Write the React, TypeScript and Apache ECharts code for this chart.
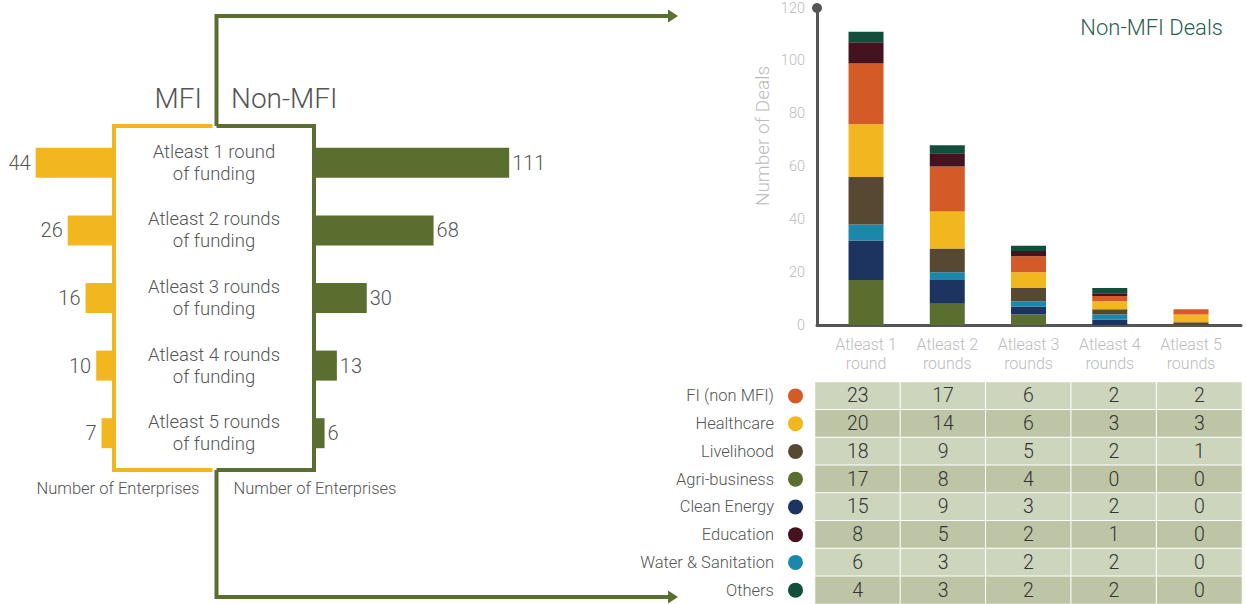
import React, { useEffect, useRef } from "react";
import * as echarts from "echarts";

const FONT = "Roboto, 'Noto Sans', sans-serif";
const FW = 300;

// Left butterfly chart
const boxLabels = [
  "Atleast 1 round\nof funding",
  "Atleast 2 rounds\nof funding",
  "Atleast 3 rounds\nof funding",
  "Atleast 4 rounds\nof funding",
  "Atleast 5 rounds\nof funding",
];
const mfiEnterprises = [44, 26, 16, 10, 7];
const nonMfiEnterprises = [111, 68, 30, 13, 6];

// Right stacked chart + table
const dealCategories = [
  "Atleast 1\nround",
  "Atleast 2\nrounds",
  "Atleast 3\nrounds",
  "Atleast 4\nrounds",
  "Atleast 5\nrounds",
];
const sectors = [
  "FI (non MFI)",
  "Healthcare",
  "Livelihood",
  "Agri-business",
  "Clean Energy",
  "Education",
  "Water & Sanitation",
  "Others",
];
const fiNonMfi = [23, 17, 6, 2, 2];
const healthcare = [20, 14, 6, 3, 3];
const livelihood = [18, 9, 5, 2, 1];
const agriBusiness = [17, 8, 4, 0, 0];
const cleanEnergy = [15, 9, 3, 2, 0];
const education = [8, 5, 2, 1, 0];
const waterSanitation = [6, 3, 2, 2, 0];
const others = [4, 3, 2, 2, 0];

const sectorValues = [fiNonMfi, healthcare, livelihood, agriBusiness, cleanEnergy, education, waterSanitation, others];
const sectorColors = ["#d45b27", "#f2b71f", "#574832", "#5a6e2f", "#1d3461", "#451320", "#1b87ab", "#124e3c"];
// bottom to top stacking order (indices into sectors)
const stackOrder = [3, 4, 6, 2, 1, 0, 5, 7];

const YELLOW = "#f2b71f";
const GREEN = "#5a6e2f";
const TXT = "#555";

export default function App() {
  const ref = useRef<HTMLDivElement>(null);
  useEffect(() => {
    document.body.style.margin = "0";
    const chart = echarts.init(ref.current!, null, { renderer: "svg" });

    const stackSeries = stackOrder.map((si) => ({
      type: "bar",
      name: sectors[si],
      xAxisIndex: 2,
      yAxisIndex: 2,
      stack: "deals",
      barWidth: 35,
      data: sectorValues[si],
      itemStyle: { color: sectorColors[si] },
    }));

    const heatData: any[] = [];
    sectors.forEach((s, r) => {
      sectorValues[r].forEach((v, c) => {
        heatData.push([c, r, v, r % 2]);
      });
    });

    const rich: any = {
      t: { fontSize: 16.5, color: TXT, fontFamily: FONT, fontWeight: FW, padding: [0, 14, 0, 0] },
    };
    sectorColors.forEach((c, i) => {
      rich["d" + i] = { backgroundColor: c, width: 15, height: 15, borderRadius: 7.5 };
    });

    const heatIndex = 2 + stackSeries.length;

    chart.setOption({
      animation: false,
      textStyle: { fontFamily: FONT, fontWeight: FW },
      title: {
        text: "Non-MFI Deals",
        right: 18,
        top: 11,
        textStyle: { color: "#2d5e4f", fontSize: 22, fontWeight: FW, fontFamily: FONT },
      },
      visualMap: {
        show: false,
        type: "piecewise",
        seriesIndex: heatIndex,
        dimension: 3,
        pieces: [
          { value: 0, color: "#cdd6bd" },
          { value: 1, color: "#bec5a6" },
        ],
      },
      grid: [
        { left: 25, width: 89, top: 129, height: 338 },
        { left: 314, width: 211, top: 129, height: 338 },
        { left: 825.4, width: 406.25, top: 8, height: 317 },
        { left: 817, width: 424, top: 8, height: 317 },
        { left: 815, width: 427, top: 382, height: 222 },
      ],
      xAxis: [
        { gridIndex: 0, type: "value", min: 0, max: 50, inverse: true, show: false },
        { gridIndex: 1, type: "value", min: 0, max: 120, show: false },
        {
          gridIndex: 2,
          type: "category",
          data: dealCategories,
          axisLine: { show: false },
          axisTick: { show: false },
          axisLabel: { color: "#bbb", fontSize: 16, lineHeight: 19, margin: 10, fontFamily: FONT, fontWeight: FW },
        },
        {
          gridIndex: 3,
          type: "value",
          min: 0,
          max: 1,
          axisLine: { show: true, lineStyle: { color: "#555", width: 3 } },
          axisTick: { show: false },
          axisLabel: { show: false },
          splitLine: { show: false },
        },
        { gridIndex: 4, type: "category", data: dealCategories, show: false },
      ],
      yAxis: [
        { gridIndex: 0, type: "category", data: boxLabels, inverse: true, show: false },
        {
          gridIndex: 1,
          type: "category",
          data: boxLabels,
          inverse: true,
          axisLine: { show: false },
          axisTick: { show: false },
          axisLabel: { margin: 100, align: "center", fontSize: 18.5, lineHeight: 22, color: TXT, fontFamily: FONT, fontWeight: FW },
        },
        { gridIndex: 2, type: "value", min: 0, max: 120, show: false },
        {
          gridIndex: 3,
          type: "value",
          min: 0,
          max: 120,
          interval: 20,
          axisLine: {
            show: true,
            symbol: ["none", "circle"],
            symbolSize: [10, 10],
            lineStyle: { color: "#555", width: 3 },
          },
          axisTick: { show: false },
          splitLine: { show: false },
          axisLabel: { color: "#bbb", fontSize: 14.5, margin: 12, fontFamily: FONT, fontWeight: FW },
        },
        {
          gridIndex: 4,
          type: "category",
          data: sectors,
          inverse: true,
          axisLine: { show: false },
          axisTick: { show: false },
          axisLabel: {
            margin: 12,
            formatter: (v: string) => `{t|${v}}{d${sectors.indexOf(v)}|}`,
            rich,
          },
        },
      ],
      series: [
        {
          type: "bar",
          xAxisIndex: 0,
          yAxisIndex: 0,
          data: mfiEnterprises,
          barWidth: 30,
          itemStyle: { color: YELLOW },
          label: { show: true, position: "left", distance: 5, fontSize: 20, color: TXT, fontFamily: FONT, fontWeight: FW },
        },
        {
          type: "bar",
          xAxisIndex: 1,
          yAxisIndex: 1,
          data: nonMfiEnterprises,
          barWidth: 30,
          itemStyle: { color: GREEN },
          label: { show: true, position: "right", distance: 3, fontSize: 20, color: TXT, fontFamily: FONT, fontWeight: FW },
        },
        ...stackSeries,
        {
          type: "heatmap",
          xAxisIndex: 4,
          yAxisIndex: 4,
          data: heatData,
          itemStyle: { borderColor: "#fff", borderWidth: 1 },
          label: {
            show: true,
            fontSize: 19.5,
            color: "#333",
            fontFamily: FONT,
            fontWeight: FW,
            formatter: (p: any) => String(p.value[2]),
          },
        },
      ],
      graphic: [
        {
          type: "polyline",
          z: 100,
          shape: { points: [[216.5, 126], [216.5, 16], [670, 16]] },
          style: { stroke: GREEN, lineWidth: 4, fill: null },
        },
        {
          type: "polygon",
          z: 100,
          shape: { points: [[668, 9.5], [678, 16], [668, 22.5]] },
          style: { fill: GREEN },
        },
        {
          type: "polyline",
          z: 100,
          shape: { points: [[216.5, 470], [216.5, 597], [670, 597]] },
          style: { stroke: GREEN, lineWidth: 4, fill: null },
        },
        {
          type: "polygon",
          z: 100,
          shape: { points: [[668, 590.5], [678, 597], [668, 603.5]] },
          style: { fill: GREEN },
        },
        {
          type: "polyline",
          z: 100,
          shape: { points: [[212.5, 126], [114, 126], [114, 470], [212.5, 470]] },
          style: { stroke: YELLOW, lineWidth: 4, fill: null },
        },
        {
          type: "polyline",
          z: 100,
          shape: { points: [[216.5, 126], [314, 126], [314, 470], [216.5, 470]] },
          style: { stroke: GREEN, lineWidth: 4, fill: null },
        },
        {
          type: "text",
          x: 202,
          y: 98,
          style: { text: "MFI", fill: TXT, fontSize: 28, fontFamily: FONT, fontWeight: FW, align: "right", verticalAlign: "middle" },
        },
        {
          type: "text",
          x: 231,
          y: 98,
          style: { text: "Non-MFI", fill: TXT, fontSize: 28, fontFamily: FONT, fontWeight: FW, align: "left", verticalAlign: "middle" },
        },
        {
          type: "text",
          x: 118,
          y: 488,
          style: { text: "Number of Enterprises", fill: TXT, fontSize: 16.5, fontFamily: FONT, fontWeight: FW, align: "center", verticalAlign: "middle" },
        },
        {
          type: "text",
          x: 315,
          y: 488,
          style: { text: "Number of Enterprises", fill: TXT, fontSize: 16.5, fontFamily: FONT, fontWeight: FW, align: "center", verticalAlign: "middle" },
        },
        {
          type: "text",
          x: 762,
          y: 136,
          rotation: Math.PI / 2,
          style: { text: "Number of Deals", fill: "#bbb", fontSize: 19, fontFamily: FONT, fontWeight: FW, align: "center", verticalAlign: "middle" },
        },
      ],
    });
    return () => chart.dispose();
  }, []);
  return <div ref={ref} style={{ position: "absolute", left: 0, top: 0, width: 1246, height: 604 }} />;
}
